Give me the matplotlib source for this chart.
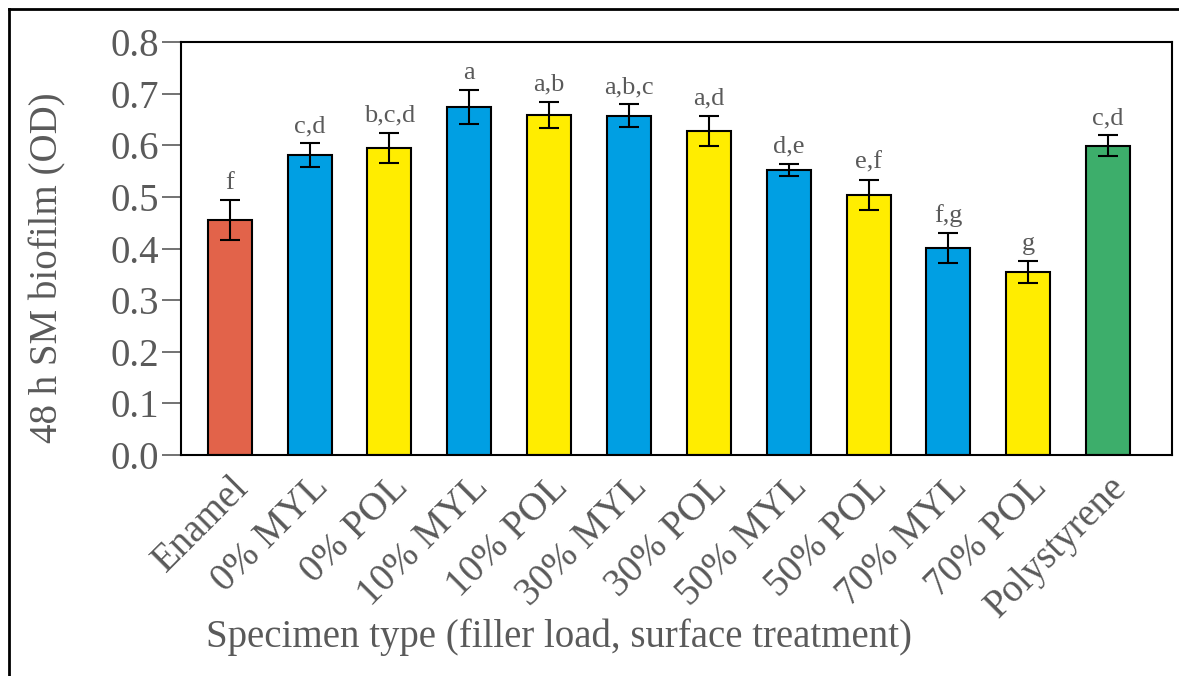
import matplotlib
matplotlib.use("Agg")
import matplotlib.pyplot as plt
from matplotlib.lines import Line2D

# ------------------------
# Data
# ------------------------
categories = ["Enamel", "0% MYL", "0% POL", "10% MYL", "10% POL", "30% MYL",
              "30% POL", "50% MYL", "50% POL", "70% MYL", "70% POL", "Polystyrene"]
means = [0.455, 0.581, 0.595, 0.674, 0.659, 0.657, 0.628, 0.552, 0.504, 0.401, 0.355, 0.599]
errors = [0.039, 0.023, 0.029, 0.033, 0.025, 0.022, 0.029, 0.012, 0.029, 0.029, 0.021, 0.020]
letters = ["f", "c,d", "b,c,d", "a", "a,b", "a,b,c", "a,d", "d,e", "e,f", "f,g", "g", "c,d"]

RED, BLUE, YELLOW, GREEN = "#E2634A", "#009FE3", "#FFED00", "#3DAE6B"
colors = [RED] + [BLUE, YELLOW] * 5 + [GREEN]

GRAY = "#5a5a5a"
plt.rcParams["font.family"] = ["Liberation Serif", "DejaVu Serif"]

fig = plt.figure(figsize=(11.79, 6.76), dpi=100)
W, H = 1179, 676
ax = fig.add_axes([181 / W, 1 - 455 / H, (1172 - 181) / W, (455 - 42) / H])

x = list(range(len(categories)))
ax.bar(x, means, width=0.55, color=colors, edgecolor="black", linewidth=1.5, zorder=2)
ax.errorbar(x, means, yerr=errors, fmt="none", ecolor="black", elinewidth=1.5,
            capsize=7, capthick=1.5, zorder=3)

for xi, m, e, lab in zip(x, means, errors, letters):
    ax.text(xi, m + e + 0.012, lab, ha="center", va="bottom", fontsize=19, color=GRAY)

ax.set_xlim(-0.61, 11.8)
ax.set_ylim(0, 0.8)
ax.set_yticks([i / 10 for i in range(9)])
ax.set_yticklabels([f"{i / 10:.1f}" for i in range(9)], fontsize=28, color=GRAY)
ax.tick_params(axis="y", direction="out", length=14, width=1.2, color=GRAY, pad=2)
ax.tick_params(axis="x", length=0, pad=10)
ax.set_xticks(x)
ax.set_xticklabels(categories, rotation=45, ha="right", rotation_mode="anchor",
                   fontsize=28, color=GRAY)
for lbl in ax.get_xticklabels():
    lbl.set_x(lbl.get_position()[0])
for s in ax.spines.values():
    s.set_linewidth(1.5)

fig.text(48 / W, 1 - 268 / H, "48 h SM biofilm (OD)", rotation=90, ha="center",
         va="center", fontsize=28, color=GRAY)
fig.text(559 / W, 1 - 637 / H, "Specimen type (filler load, surface treatment)",
         ha="center", va="center", fontsize=28, color=GRAY)

# outer frame (top and left)
fig.add_artist(Line2D([9 / W, 1], [1 - 9 / H, 1 - 9 / H], color="black", linewidth=2,
                      transform=fig.transFigure))
fig.add_artist(Line2D([9 / W, 9 / W], [0, 1 - 9 / H], color="black", linewidth=2,
                      transform=fig.transFigure))

fig.savefig("out.png", dpi=100)
